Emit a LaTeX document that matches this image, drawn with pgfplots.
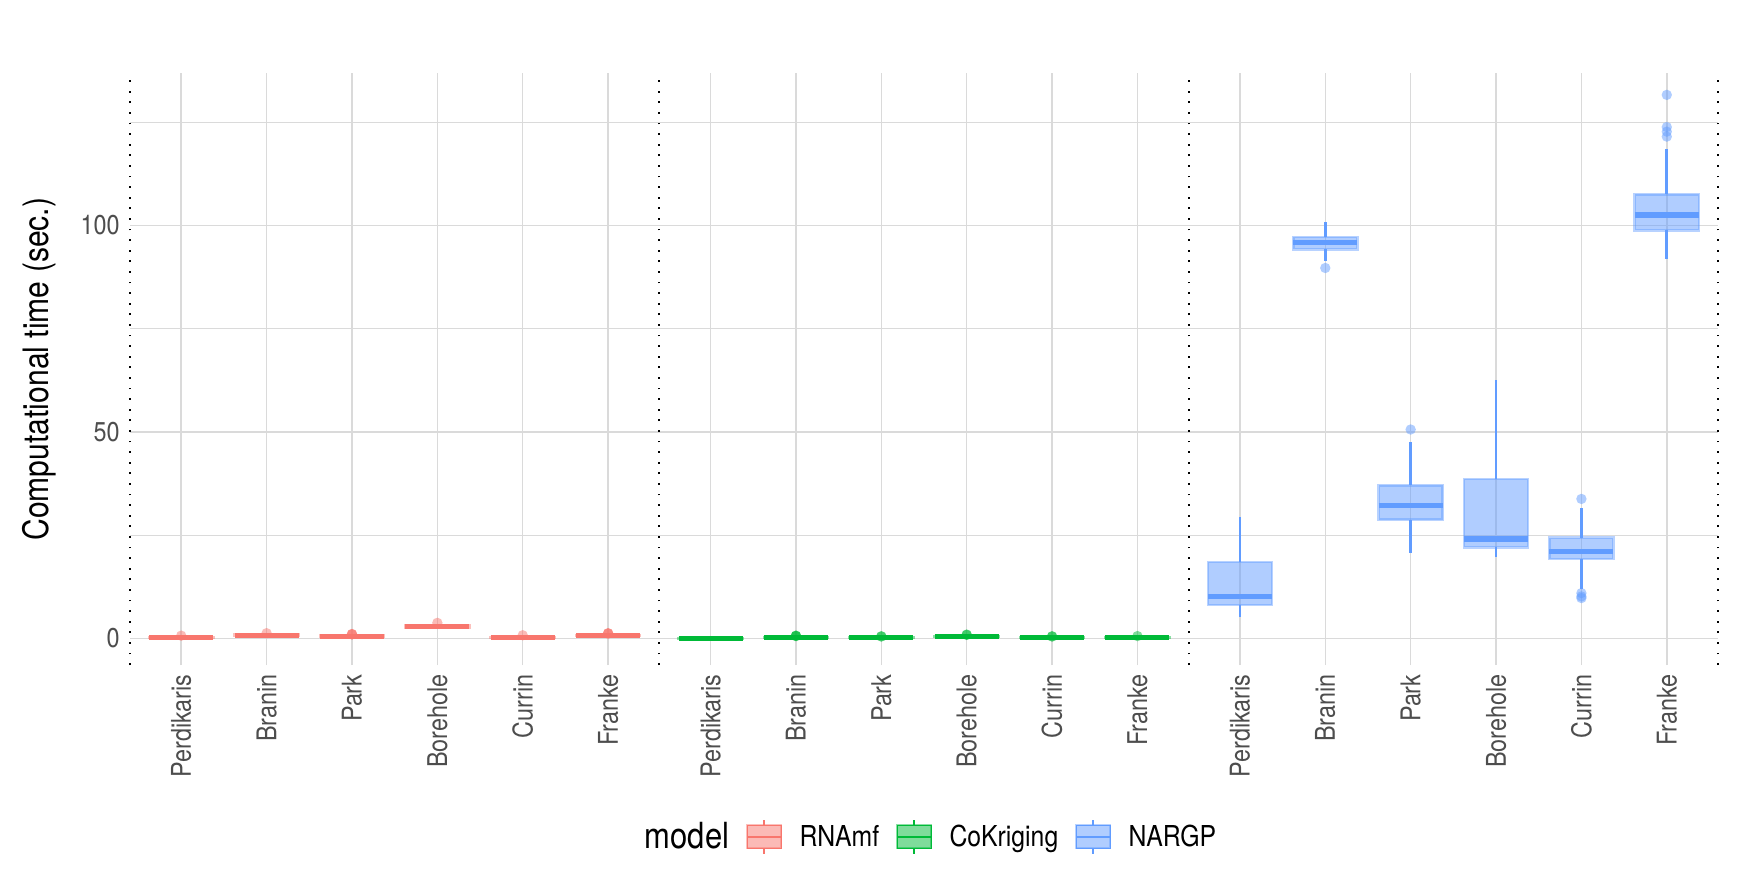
\documentclass[border=0pt]{standalone}
\usepackage{pgfplots}
\pgfplotsset{compat=1.18}
\usepgfplotslibrary{statistics}
\usepackage{fontspec}
\setmainfont{TeX Gyre Heros}[FakeStretch=0.86]

\definecolor{cR}{HTML}{F8766D}
\definecolor{cG}{HTML}{00BA38}
\definecolor{cB}{HTML}{619CFF}
\definecolor{grd}{HTML}{DADADA}
\definecolor{tck}{HTML}{4D4D4D}

\pgfplotsset{
  mbox/.style={forget plot, draw=#1, line width=1.4pt,
    boxplot/draw direction=y,
    boxplot/every box/.style={draw=#1, draw opacity=0.45, fill=#1, fill opacity=0.5, line width=1.3pt},
    boxplot/every median/.style={draw=#1, line width=2.6pt},
    boxplot/every whisker/.style={draw=#1, line width=1.4pt},
    boxplot/whisker extend=0, boxplot/box extend=0.75},
  mout/.style={forget plot, only marks, mark=*, mark size=2.6pt, color=#1,
    mark options={draw opacity=0, fill=#1, fill opacity=0.5}},
}

% color, position, lower whisker, lower quartile, median, upper quartile, upper whisker
\newcommand{\bx}[7]{\addplot[mbox=#1, boxplot prepared={draw position=#2,
  lower whisker=#3, lower quartile=#4, median=#5, upper quartile=#6, upper whisker=#7}] coordinates {};}

\newcommand{\keybox}[1]{%
  \fill[#1, fill opacity=0.5] (0pt,-5.75pt) rectangle (17pt,5.75pt);
  \draw[#1, draw opacity=0.45, line width=1pt] (0pt,-5.75pt) rectangle (17pt,5.75pt);
  \draw[#1, line width=1.2pt] (0pt,0pt) -- (17pt,0pt);
  \draw[#1, line width=1pt] (8.5pt,5.75pt) -- (8.5pt,8.5pt) (8.5pt,-5.75pt) -- (8.5pt,-8.5pt);}

\begin{document}
\begin{tikzpicture}
\useasboundingbox (0,0) rectangle (872pt,436pt);
\begin{axis}[
    at={(65pt,103.5pt)}, anchor=south west,
    scale only axis, width=794pt, height=295.8pt,
    xmin=0, xmax=18.6, ymin=-6.4, ymax=136.8,
    axis line style={draw=none},
    major tick length=0pt, minor tick length=0pt,
    xtick={0.6,1.6,2.6,3.6,4.6,5.6,6.8,7.8,8.8,9.8,10.8,11.8,13,14,15,16,17,18},
    xticklabels={Perdikaris,Branin,Park,Borehole,Currin,Franke,
                 Perdikaris,Branin,Park,Borehole,Currin,Franke,
                 Perdikaris,Branin,Park,Borehole,Currin,Franke},
    ytick={0,50,100}, minor ytick={25,75,125},
    xmajorgrids, ymajorgrids, yminorgrids,
    major grid style={grd, line width=0.75pt},
    minor grid style={grd, line width=0.6pt},
    xticklabel style={rotate=90, anchor=east, inner sep=0pt,
        font=\fontsize{13.6}{16}\selectfont, text=tck},
    xticklabel shift=4.5pt,
    yticklabel style={anchor=east, inner sep=0pt,
        font=\fontsize{13.6}{16}\selectfont, text=tck},
    yticklabel shift=5pt,
    /pgf/number format/assume math mode=true,
    ylabel={Computational time (sec.)},
    ylabel style={at={(axis description cs:-0.0573,0.5)}, anchor=center,
        font=\fontsize{17.5}{20}\selectfont},
    clip=false,
    legend columns=-1,
    legend style={at={(0.5,-0.2907)}, anchor=center, draw=none, fill=none,
        font=\fontsize{14.4}{17}\selectfont, column sep=6.5pt},
]
% RNAmf
\bx{cR}{0.6}{0.1}{0.2}{0.3}{0.4}{0.6}
\bx{cR}{1.6}{0.4}{0.6}{0.8}{1.0}{1.2}
\bx{cR}{2.6}{0.2}{0.4}{0.5}{0.7}{0.9}
\bx{cR}{3.6}{2.4}{2.7}{2.9}{3.1}{3.4}
\bx{cR}{4.6}{0.1}{0.2}{0.3}{0.4}{0.6}
\bx{cR}{5.6}{0.4}{0.6}{0.7}{0.9}{1.1}
\addplot[mout=cR] coordinates {(0.6,0.7) (1.6,1.3) (2.6,1.0) (2.6,1.05) (2.6,1.1)
  (3.6,3.8) (4.6,0.8) (5.6,1.2) (5.6,1.25) (5.6,1.3)};
% CoKriging
\bx{cG}{6.8}{0.01}{0.03}{0.05}{0.08}{0.12}
\bx{cG}{7.8}{0.1}{0.2}{0.3}{0.4}{0.5}
\bx{cG}{8.8}{0.1}{0.2}{0.3}{0.4}{0.5}
\bx{cG}{9.8}{0.3}{0.4}{0.5}{0.6}{0.8}
\bx{cG}{10.8}{0.05}{0.1}{0.2}{0.3}{0.4}
\bx{cG}{11.8}{0.1}{0.2}{0.3}{0.4}{0.5}
\addplot[mout=cG] coordinates {(7.8,0.6) (7.8,0.65) (7.8,0.7) (8.8,0.5) (8.8,0.55)
  (9.8,0.9) (9.8,0.95) (10.8,0.5) (10.8,0.55) (11.8,0.6)};
% NARGP
\bx{cB}{13}{5.2}{8.1}{10.2}{18.5}{29.4}
\bx{cB}{14}{91.4}{94.2}{95.8}{97.2}{100.8}
\bx{cB}{15}{20.6}{28.8}{32.3}{37.1}{47.5}
\bx{cB}{16}{19.7}{22.1}{24.1}{38.6}{62.7}
\bx{cB}{17}{11.9}{19.3}{21.1}{24.4}{31.6}
\bx{cB}{18}{91.9}{98.8}{102.5}{107.5}{118.4}
\addplot[mout=cB] coordinates {(14,89.7) (15,50.6) (17,33.8) (17,11.0) (17,10.2) (17,9.8)
  (18,131.6) (18,123.8) (18,122.7) (18,121.5)};

\pgfplotsinvokeforeach{0,6.2,12.4,18.6}{
  \draw[black, line width=0.9pt, dash pattern=on 0.9pt off 4.4pt]
    (axis cs:#1,-6.4) -- (axis cs:#1,136.8);
}

\addlegendimage{empty legend}
\addlegendentry{\fontsize{18}{21}\selectfont model}
\addlegendimage{legend image code/.code={\keybox{cR}}}
\addlegendentry{RNAmf}
\addlegendimage{legend image code/.code={\keybox{cG}}}
\addlegendentry{CoKriging}
\addlegendimage{legend image code/.code={\keybox{cB}}}
\addlegendentry{NARGP}
\end{axis}
\end{tikzpicture}
\end{document}
